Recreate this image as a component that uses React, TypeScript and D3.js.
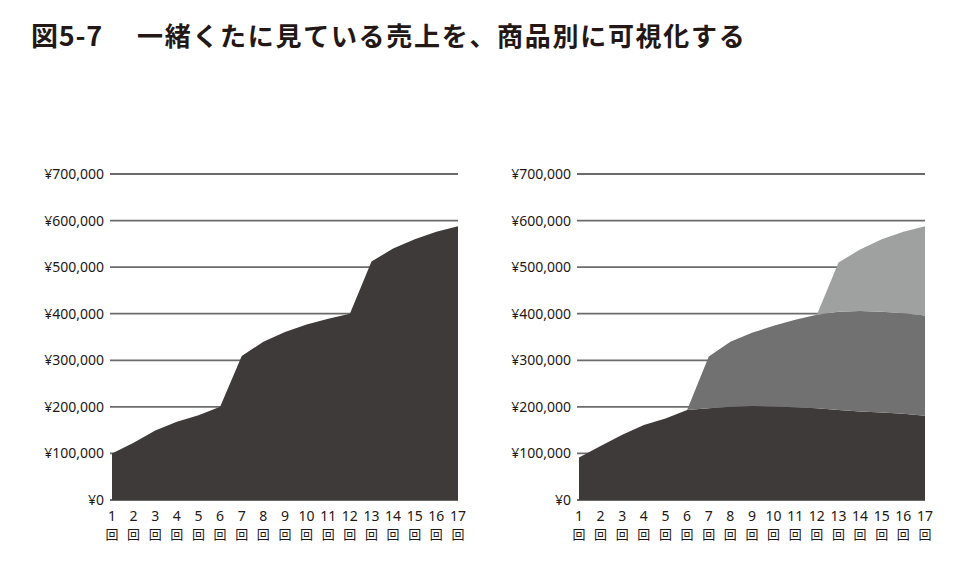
import React from 'react';
import * as d3 from 'd3';

const rounds = ['1', '2', '3', '4', '5', '6', '7', '8', '9', '10', '11', '12', '13', '14', '15', '16', '17'];

// left chart: cumulative total sales
const totalSales = [100000, 123000, 149000, 168000, 182000, 200000, 309000, 340000, 361000, 377000, 389000, 400000, 512000, 540000, 560000, 576000, 588000];

// right chart: sales by product (stacked); null = not on sale yet
const productA = [91000, 116000, 140000, 161000, 175000, 193000, 197000, 200000, 202000, 201000, 199000, 197000, 193000, 190000, 188000, 185000, 181000];
const productB = [null, null, null, null, null, 0, 111000, 140000, 157000, 173000, 188000, 201000, 211000, 216000, 216000, 216000, 215000];
const productC = [null, null, null, null, null, null, null, null, null, null, null, 0, 106000, 132000, 156000, 175000, 192000];

const yTicks = [0, 100000, 200000, 300000, 400000, 500000, 600000, 700000];
const seriesColors = ['#3e3a39', '#727171', '#9fa0a0'];

const title = '図5-7';
const subtitle = '一緒くたに見ている売上を、商品別に可視化する';

const W = 968;
const H = 571;

const fmtYen = (v: number) => '¥' + d3.format(',')(v);

interface PanelProps {
  left: number; // x where the gridlines start
  right: number;
  layers: { values: (number | null)[]; base: number[]; color: string }[];
}

const Panel: React.FC<PanelProps> = ({ left, right, layers }) => {
  const y = d3.scaleLinear().domain([0, 700000]).range([500, 174]);
  const x = d3.scalePoint<string>().domain(rounds).range([left + 2, right]);

  return (
    <g>
      {yTicks.map(t => (
        <g key={t}>
          <line x1={left} x2={right} y1={y(t)} y2={y(t)} stroke="#6b6b6b" strokeWidth={1.8} />
          <text
            x={left - 6}
            y={y(t) + 5}
            textAnchor="end"
            fontSize={14}
            fill="#231815"
            fontFamily="'Noto Sans', sans-serif"
          >
            {fmtYen(t)}
          </text>
        </g>
      ))}
      {layers.map((layer, li) => {
        const area = d3
          .area<number>()
          .defined((_, i) => layer.values[i] !== null)
          .x((_, i) => x(rounds[i]) as number)
          .y0((_, i) => y(layer.base[i]))
          .y1((_, i) => y(layer.base[i] + (layer.values[i] ?? 0)));
        return <path key={li} d={area(rounds.map((_, i) => i)) || ''} fill={layer.color} />;
      })}
      {rounds.map(r => (
        <g key={r} fill="#231815" textAnchor="middle">
          <text x={x(r)} y={521} fontSize={14} fontFamily="'Noto Sans', sans-serif">{r}</text>
          <text x={x(r)} y={538.5} fontSize={13} fontFamily="'Noto Sans CJK JP', sans-serif">回</text>
        </g>
      ))}
    </g>
  );
};

const App: React.FC = () => {
  const zeros = rounds.map(() => 0);
  const baseB = productA.slice();
  const baseC = productA.map((a, i) => a + (productB[i] ?? 0));

  return (
    <svg
      width={W}
      height={H}
      style={{ position: 'absolute', left: 0, top: 0, background: '#fff' }}
    >
      <text
        x={31}
        y={46}
        fontSize={27}
        letterSpacing={0.8}
        fontWeight="bold"
        fill="#231815"
        fontFamily="'Noto Sans CJK JP', sans-serif"
      >
        {title}
      </text>
      <text
        x={137}
        y={46}
        fontSize={26}
        letterSpacing={1.7}
        fontWeight="bold"
        fill="#231815"
        fontFamily="'Noto Sans CJK JP', sans-serif"
      >
        {subtitle}
      </text>
      <Panel left={110} right={458} layers={[{ values: totalSales, base: zeros, color: seriesColors[0] }]} />
      <Panel
        left={577}
        right={925}
        layers={[
          { values: productA, base: zeros, color: seriesColors[0] },
          { values: productB, base: baseB, color: seriesColors[1] },
          { values: productC, base: baseC, color: seriesColors[2] },
        ]}
      />
    </svg>
  );
};

export default App;
